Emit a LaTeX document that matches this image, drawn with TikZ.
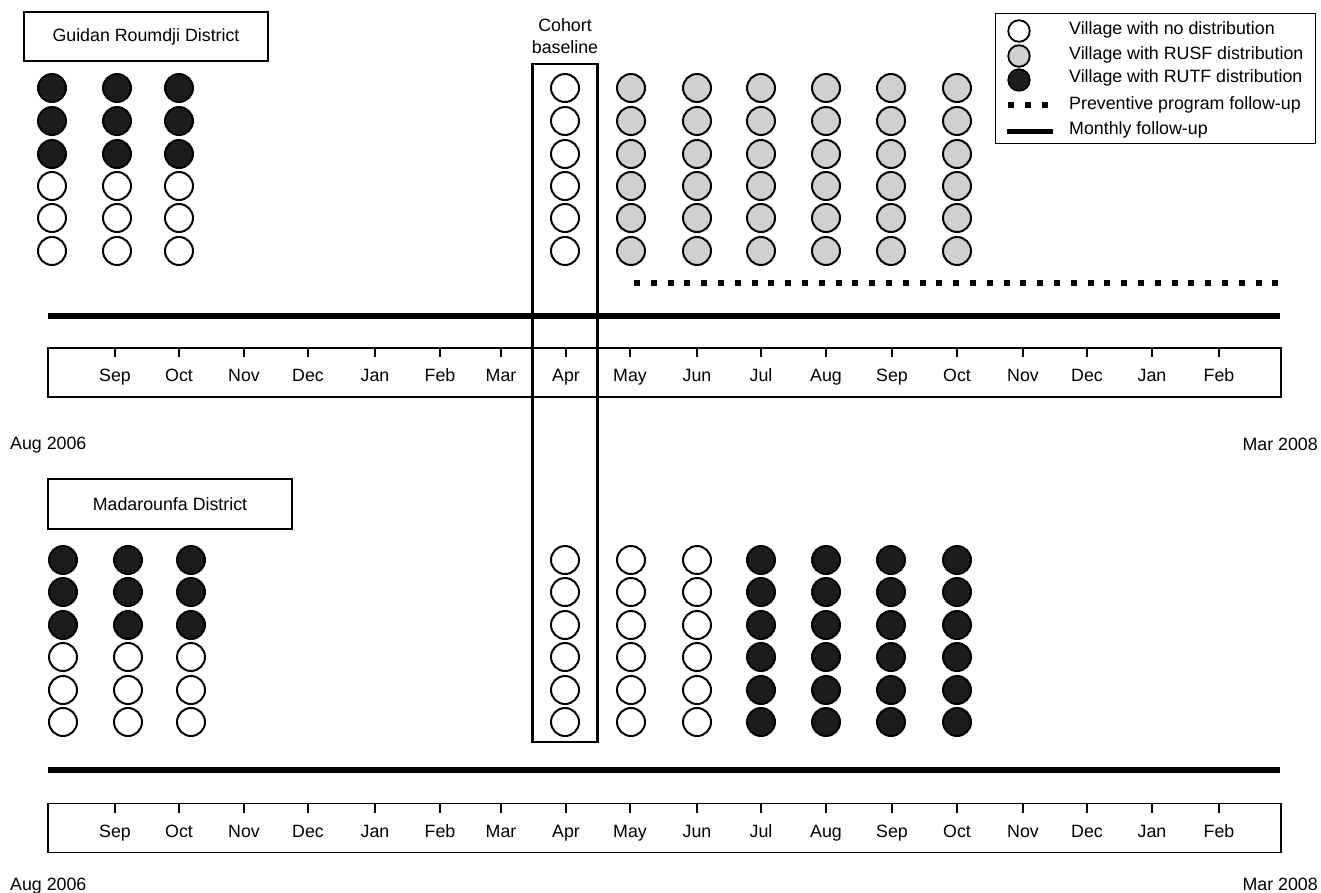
\documentclass[tikz,border=0pt]{standalone}
\usepackage{fontspec}
\setmainfont{Liberation Sans}
\definecolor{rutfc}{HTML}{1C1C1C}
\definecolor{rusfc}{HTML}{D0D0D0}
\begin{document}
\begin{tikzpicture}[x=1pt,y=-1pt,font=\fontsize{17.8}{21}\selectfont,
  vill/.style={circle,draw=black,line width=2pt,minimum size=28pt,inner sep=0pt},
  none/.style={vill,fill=white},
  rusf/.style={vill,fill=rusfc},
  rutf/.style={vill,fill=rutfc},
  lvill/.style={circle,draw=black,line width=1.8pt,minimum size=21.5pt,inner sep=0pt},
  distbox/.style={draw,line width=1.8pt,minimum width=244pt,minimum height=49pt,inner sep=0pt},
  tline/.style={draw,line width=1.3pt,minimum width=1233pt,minimum height=49pt,inner sep=0pt},
  monthly/.style={line width=6pt},
  prevent/.style={line width=6pt,dash pattern=on 6pt off 10.8pt},
  tick/.style={line width=1.1pt},
  txt/.style={inner sep=0pt},
  month/.style={inner sep=0pt,anchor=base}
]
\useasboundingbox (0,0) rectangle (1321,892);

% ---------------- Top panel ----------------
\node[distbox] (gr) at (146,36.5) {Guidan Roumdji District};

% pre-baseline columns
\foreach \x [count=\c] in {52,117,179}{
  \foreach \y [count=\r] in {88,121,154,186,218,251}{
    \ifnum\r<4
      \node[rutf] (t-\c-\r) at (\x,\y) {};
    \else
      \node[none] (t-\c-\r) at (\x,\y) {};
    \fi
  }
}
% baseline column
\foreach \y [count=\r] in {88,121,154,186,218,251}{
  \node[none] (tb-\r) at (565,\y) {};
}
% RUSF columns
\foreach \x [count=\c] in {631,697,761,826,891,957}{
  \foreach \y [count=\r] in {88,121,154,186,218,251}{
    \node[rusf] (ts-\c-\r) at (\x,\y) {};
  }
}

\coordinate (p1) at (634,283);
\coordinate (p2) at (1280,283);
\draw[prevent] (p1) -- (p2);

\coordinate (m1) at (48,316);
\coordinate (m2) at (1280,316);
\draw[monthly] (m1) -- (m2);

\node[tline] (tl1) at (664.5,372.5) {};
\foreach \x/\m [count=\i] in {115/Sep,179/Oct,244/Nov,308/Dec,375/Jan,440/Feb,501/Mar,566/Apr,630/May,697/Jun,761/Jul,826/Aug,892/Sep,957/Oct,1023/Nov,1087/Dec,1152/Jan,1219/Feb}{
  \coordinate (tk1a-\i) at (\x,348);
  \coordinate (tk1b-\i) at (\x,357);
  \draw[tick] (tk1a-\i) -- (tk1b-\i);
  \node[month] (ml1-\i) at (\x,381) {\m};
}
\node[txt,anchor=west] (aug1) at (10,445) {Aug 2006};
\node[txt,anchor=east] (mar1) at (1318,444) {Mar 2008};

% ---------------- Cohort baseline ----------------
\node[draw,line width=2.4pt,minimum width=65pt,minimum height=678pt,inner sep=0pt] (cohort) at (565,403) {};
\node[txt,align=center,font=\fontsize{17.8}{22}\selectfont] (cohortlab) at (565,36) {Cohort\\baseline};

% ---------------- Bottom panel ----------------
\node[distbox,minimum height=50pt] (md) at (170,504) {Madarounfa District};

\foreach \x [count=\c] in {63,128,191}{
  \foreach \y [count=\r] in {560,592,625,657,690,722}{
    \ifnum\r<4
      \node[rutf] (b-\c-\r) at (\x,\y) {};
    \else
      \node[none] (b-\c-\r) at (\x,\y) {};
    \fi
  }
}
\foreach \y [count=\r] in {560,592,625,657,690,722}{
  \node[none] (bb-\r) at (565,\y) {};
}
\foreach \x [count=\c] in {631,697}{
  \foreach \y [count=\r] in {560,592,625,657,690,722}{
    \node[none] (bn-\c-\r) at (\x,\y) {};
  }
}
\foreach \x [count=\c] in {761,826,891,957}{
  \foreach \y [count=\r] in {560,592,625,657,690,722}{
    \node[rutf] (bt-\c-\r) at (\x,\y) {};
  }
}

\coordinate (n1) at (48,770);
\coordinate (n2) at (1280,770);
\draw[monthly] (n1) -- (n2);

\node[tline] (tl2) at (664.5,828) {};
\foreach \x/\m [count=\i] in {115/Sep,179/Oct,244/Nov,308/Dec,375/Jan,440/Feb,501/Mar,566/Apr,630/May,697/Jun,761/Jul,826/Aug,892/Sep,957/Oct,1023/Nov,1087/Dec,1152/Jan,1219/Feb}{
  \coordinate (tk2a-\i) at (\x,803.5);
  \coordinate (tk2b-\i) at (\x,812.5);
  \draw[tick] (tk2a-\i) -- (tk2b-\i);
  \node[month] (ml2-\i) at (\x,837) {\m};
}
\node[txt,anchor=west] (aug2) at (10,886) {Aug 2006};
\node[txt,anchor=east] (mar2) at (1318,884) {Mar 2008};

% ---------------- Legend ----------------
\node[draw,line width=1.3pt,minimum width=320pt,minimum height=130pt,inner sep=0pt,anchor=north west] (legend) at (995,13) {};
\node[lvill,fill=white] (lg1) at (1019,31) {};
\node[lvill,fill=rusfc] (lg2) at (1019,56) {};
\node[lvill,fill=rutfc] (lg3) at (1019,80) {};
\coordinate (lp1) at (1008,105);
\coordinate (lp2) at (1050,105);
\draw[prevent] (lp1) -- (lp2);
\coordinate (lm1) at (1007,131);
\coordinate (lm2) at (1053,131);
\draw[line width=5pt] (lm1) -- (lm2);
\node[txt,anchor=west] (lt1) at (1069,30) {Village with no distribution};
\node[txt,anchor=west] (lt2) at (1069,55) {Village with RUSF distribution};
\node[txt,anchor=west] (lt3) at (1069,78) {Village with RUTF distribution};
\node[txt,anchor=west] (lt4) at (1069,105) {Preventive program follow-up};
\node[txt,anchor=west] (lt5) at (1069,130) {Monthly follow-up};
\end{tikzpicture}
\end{document}
